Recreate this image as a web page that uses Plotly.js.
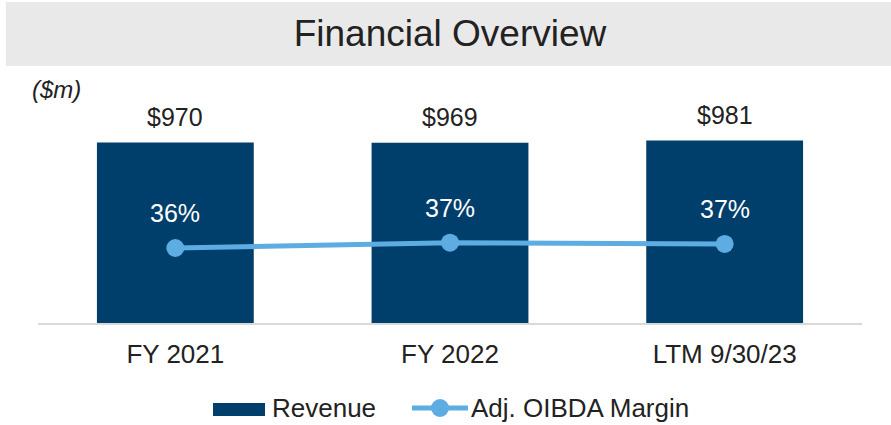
<!DOCTYPE html>
<html>
<head>
<meta charset="utf-8">
<script src="https://cdn.plot.ly/plotly-3.0.1.min.js"></script>
<style>
  html, body { margin: 0; padding: 0; background: #ffffff; }
  #chart { width: 891px; height: 425px; }
</style>
</head>
<body>
<div id="chart"></div>
<script>
// ---- data ----
const categories = ['FY 2021', 'FY 2022', 'LTM 9/30/23'];
const revenue = [970, 969, 981];             // $m
const revenueLabels = ['$970', '$969', '$981'];
const oibdaMargin = [36.3, 37.2, 37.0];      // %
const marginLabels = ['36%', '37%', '37%'];
const seriesNames = ['Revenue', 'Adj. OIBDA Margin'];
const chartTitle = 'Financial Overview';
const unitNote = '($m)';

// ---- styles ----
const BAR_COLOR = '#003e6b';
const LINE_COLOR = '#5dade2';
const TEXT_COLOR = '#222222';
const FONT = 'Liberation Sans, Arial, sans-serif';

const traces = [
  {
    type: 'bar',
    name: seriesNames[0],
    x: categories,
    y: revenue,
    marker: { color: BAR_COLOR },
    hoverinfo: 'none',
    showlegend: false
  },
  {
    type: 'scatter',
    mode: 'lines+markers',
    name: seriesNames[1],
    x: categories,
    y: oibdaMargin,
    yaxis: 'y2',
    line: { color: LINE_COLOR, width: 5 },
    marker: { color: LINE_COLOR, size: 18 },
    hoverinfo: 'none',
    showlegend: false
  }
];

const annotations = [];
categories.forEach((c, i) => {
  annotations.push({
    x: c, y: revenue[i], xref: 'x', yref: 'y',
    text: revenueLabels[i], showarrow: false,
    yanchor: 'middle', yshift: 26,
    font: { family: FONT, size: 25, color: TEXT_COLOR }
  });
  annotations.push({
    x: c, y: oibdaMargin[i], xref: 'x', yref: 'y2',
    text: marginLabels[i], showarrow: false,
    yanchor: 'middle', yshift: 35,
    font: { family: FONT, size: 25, color: '#ffffff' }
  });
});

// unit note
annotations.push({
  x: 0.0225, y: 0.921, xref: 'paper', yref: 'paper',
  text: '<i>' + unitNote + '</i>', showarrow: false,
  xanchor: 'center', yanchor: 'middle',
  font: { family: FONT, size: 24, color: TEXT_COLOR }
});

// legend texts
annotations.push({
  x: 0.2815, y: -0.336, xref: 'paper', yref: 'paper',
  text: seriesNames[0], showarrow: false,
  xanchor: 'left', yanchor: 'middle',
  font: { family: FONT, size: 26, color: TEXT_COLOR }
});
annotations.push({
  x: 0.5235, y: -0.336, xref: 'paper', yref: 'paper',
  text: seriesNames[1], showarrow: false,
  xanchor: 'left', yanchor: 'middle',
  font: { family: FONT, size: 26, color: TEXT_COLOR }
});

const shapes = [
  // title banner
  { type: 'rect', xref: 'paper', yref: 'paper', layer: 'below',
    x0: -0.039, x1: 1.04, y0: 1.0158, y1: 1.269,
    fillcolor: '#e9e9e9', line: { width: 0 } },
  // legend: bar key
  { type: 'rect', xref: 'paper', yref: 'paper',
    x0: 0.2124, x1: 0.2755, y0: -0.3676, y1: -0.3162,
    fillcolor: BAR_COLOR, line: { width: 0 } },
  // legend: line key
  { type: 'line', xref: 'paper', yref: 'paper',
    x0: 0.4539, x1: 0.5218, y0: -0.336, y1: -0.336,
    line: { color: LINE_COLOR, width: 5 } },
  { type: 'circle', xref: 'paper', yref: 'paper',
    xsizemode: 'pixel', ysizemode: 'pixel',
    xanchor: 0.4879, yanchor: -0.336,
    x0: -9, x1: 9, y0: -9, y1: 9,
    fillcolor: LINE_COLOR, line: { width: 0 } }
];

const layout = {
  width: 891,
  height: 425,
  margin: { l: 38, r: 29, t: 70, b: 102, pad: 0 },
  paper_bgcolor: '#ffffff',
  plot_bgcolor: '#ffffff',
  font: { family: FONT, color: TEXT_COLOR },
  title: {
    text: chartTitle,
    x: 0.5, xref: 'paper', xanchor: 'center',
    y: 0.922, yref: 'container', yanchor: 'middle',
    font: { family: FONT, size: 37, color: TEXT_COLOR }
  },
  bargap: 0.429,
  showlegend: false,
  xaxis: {
    type: 'category',
    showline: true, linecolor: '#d9d9d9', linewidth: 2,
    ticks: '', showgrid: false, zeroline: false,
    ticklabelstandoff: 7,
    tickfont: { family: FONT, size: 26, color: TEXT_COLOR },
    fixedrange: true
  },
  yaxis: {
    range: [0, 1360], visible: false, showgrid: false, zeroline: false, fixedrange: true
  },
  yaxis2: {
    range: [23.59, 66.47], overlaying: 'y', visible: false, showgrid: false, zeroline: false, fixedrange: true
  },
  annotations: annotations,
  shapes: shapes
};

Plotly.newPlot('chart', traces, layout, { staticPlot: true, displayModeBar: false });
</script>
</body>
</html>
